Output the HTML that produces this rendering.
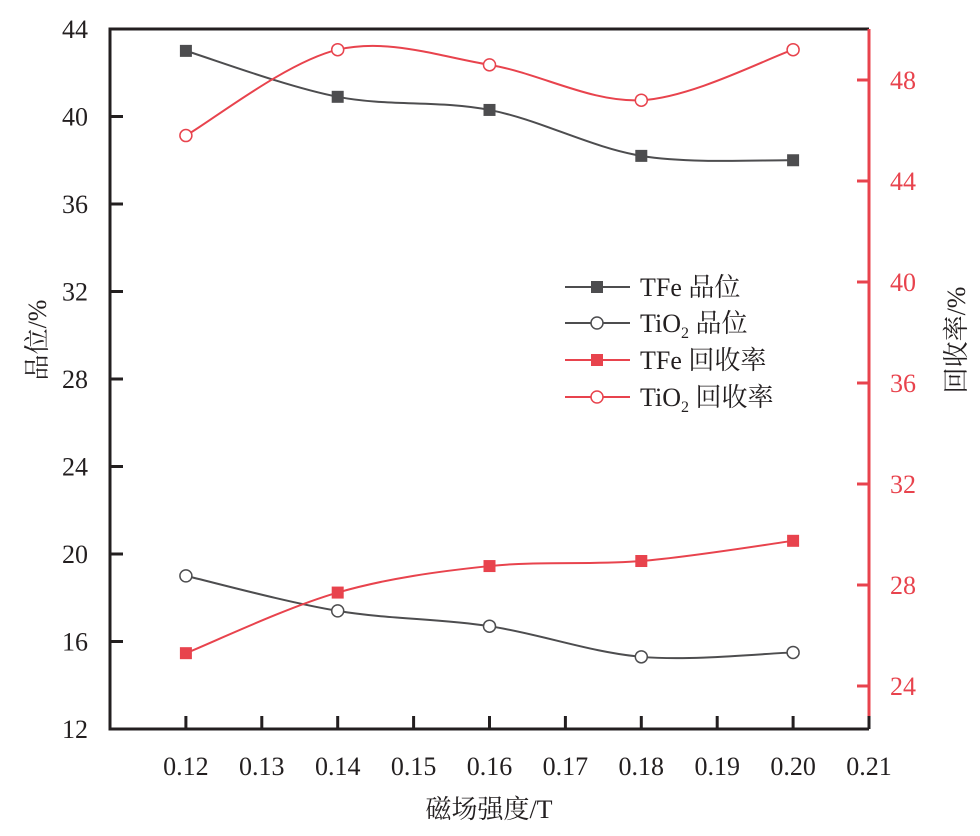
<!DOCTYPE html>
<html><head><meta charset="utf-8"><style>
body{margin:0;background:#fff;}
svg text{font-family:"Liberation Serif","Noto Serif CJK SC",serif;}
</style></head><body>
<svg id="c" width="980" height="831" xmlns="http://www.w3.org/2000/svg"></svg>
<script>
const xCats=[0.12,0.14,0.16,0.18,0.20];
const tfeGrade=[43.0,40.9,40.3,38.2,38.0];
const tio2Grade=[19.0,17.4,16.7,15.3,15.5];
const tfeRec=[25.3,27.7,28.75,28.95,29.75];
const tio2Rec=[45.8,49.2,48.6,47.2,49.2];
const xTicks=["0.12","0.13","0.14","0.15","0.16","0.17","0.18","0.19","0.20","0.21"];
const yLTicks=[12,16,20,24,28,32,36,40,44];
const yRTicks=[24,28,32,36,40,44,48];

const L=110,R=869,T=29,B=729;
const xs=v=>L+(v-0.11)/0.10*(R-L);
const yl=v=>B-(v-12)/32*(B-T);
const yr=v=>80+(48-v)/24*(686-80);
const svg=document.getElementById('c');
const NS='http://www.w3.org/2000/svg';
function mk(t,a,txt){const e=document.createElementNS(NS,t);for(const k in a)e.setAttribute(k,a[k]);if(txt!=null)e.textContent=txt;svg.appendChild(e);return e;}

let e;
e=mk('path',{d:`M${R},${T} L${L},${T} L${L},${B} L${R},${B}`,fill:'none',stroke:'#231f20','stroke-width':3});

e=mk('line',{x1:R,y1:T,x2:R,y2:B,stroke:'#e8434d','stroke-width':3});


xTicks.forEach(t=>{const x=xs(+t);
 e=mk('line',{x1:x,y1:B,x2:x,y2:B-13,stroke:'#231f20','stroke-width':3});
 
 e=mk('text',{x:x,y:775,'text-anchor':'middle','font-size':26,fill:'#231f20'},t);
 });
yLTicks.forEach(v=>{const y=yl(v);
 e=mk('line',{x1:L,y1:y,x2:L+13,y2:y,stroke:'#231f20','stroke-width':3});
 
 e=mk('text',{x:88,y:y+9,'text-anchor':'end','font-size':26,fill:'#231f20'},v);
 });
yRTicks.forEach(v=>{const y=yr(v);
 e=mk('line',{x1:R,y1:y,x2:R-12,y2:y,stroke:'#e8434d','stroke-width':3});
 
 e=mk('text',{x:890,y:y+9,'font-size':26,fill:'#e8434d'},v);
 });

e=mk('text',{x:489,y:818,'text-anchor':'middle','font-size':26,fill:'#231f20'},'磁场强度/T');

e=mk('text',{x:0,y:0,'text-anchor':'middle','font-size':26,fill:'#231f20',transform:'translate(46,340) rotate(-90)'},'品位/%');

e=mk('text',{x:0,y:0,'text-anchor':'middle','font-size':26,fill:'#231f20',transform:'translate(965,340) rotate(-90)'},'回收率/%');


function smooth(p){let d=`M${p[0][0]},${p[0][1]}`;
 for(let i=0;i<p.length-1;i++){const p0=p[i-1]||p[i],p1=p[i],p2=p[i+1],p3=p[i+2]||p2;
  d+=` C${p1[0]+(p2[0]-p0[0])/6},${p1[1]+(p2[1]-p0[1])/6} ${p2[0]-(p3[0]-p1[0])/6},${p2[1]-(p3[1]-p1[1])/6} ${p2[0]},${p2[1]}`;}
 return d;}
function series(vals,yf,col,sq,name){
 const pts=xCats.map((x,i)=>[xs(x),yf(vals[i])]);
 e=mk('path',{d:smooth(pts),fill:'none',stroke:col,'stroke-width':2});
 
 pts.forEach(p=>{
  if(sq){e=mk('rect',{x:p[0]-6,y:p[1]-6,width:12,height:12,fill:col});}
  else{e=mk('circle',{cx:p[0],cy:p[1],r:6,fill:'#fff',stroke:col,'stroke-width':1.5});}
  });
}
series(tfeGrade,yl,'#4d4d4f',true,'tfe-grade');
series(tio2Grade,yl,'#4d4d4f',false,'tio2-grade');
series(tfeRec,yr,'#e8434d',true,'tfe-recovery');
series(tio2Rec,yr,'#e8434d',false,'tio2-recovery');

const legend=[['TFe 品位','#4d4d4f',true,287],['TiO2 品位','#4d4d4f',false,323],['TFe 回收率','#e8434d',true,360],['TiO2 回收率','#e8434d',false,397]];
legend.forEach(l=>{const y=l[3];
 e=mk('line',{x1:565,y1:y,x2:630,y2:y,stroke:l[1],'stroke-width':2});
 
 if(l[2]){e=mk('rect',{x:591,y:y-6,width:12,height:12,fill:l[1]});}
 else{e=mk('circle',{cx:597,cy:y,r:6,fill:'#fff',stroke:l[1],'stroke-width':1.5});}
 
 const t=mk('text',{x:640,y:y+9,'font-size':26,fill:'#231f20'});
 
 if(l[0].startsWith('TiO2')){
  t.appendChild(document.createTextNode('TiO'));
  const s=document.createElementNS(NS,'tspan');s.setAttribute('font-size',16);s.setAttribute('dy',6);s.textContent='2';t.appendChild(s);
  const s2=document.createElementNS(NS,'tspan');s2.setAttribute('dy',-6);s2.textContent=l[0].slice(4);t.appendChild(s2);
 } else t.textContent=l[0];
});
</script>
</body></html>
